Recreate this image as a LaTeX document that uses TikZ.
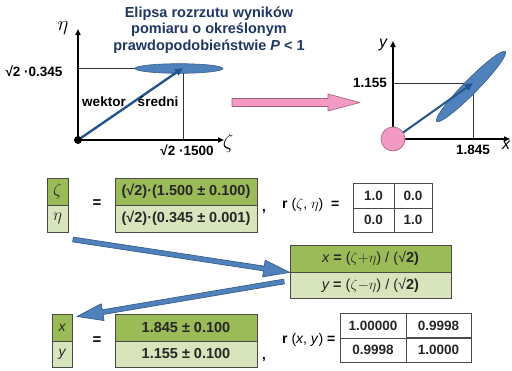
\documentclass[tikz,border=0pt]{standalone}
\usepackage{fontspec}
\setmainfont{Liberation Sans}
\usetikzlibrary{calc,arrows.meta}
\definecolor{titlec}{HTML}{1F3763}
\definecolor{gdark}{HTML}{9BBB59}
\definecolor{glight}{HTML}{D8E4BC}
\definecolor{bordc}{HTML}{4A4A4A}
\definecolor{txtc}{HTML}{262626}
\definecolor{ellf}{HTML}{4F81BD}
\definecolor{elld}{HTML}{385D8A}
\definecolor{vecc}{HTML}{24558C}
\definecolor{pinkf}{HTML}{F39AC4}
\definecolor{pinkd}{HTML}{A0607E}
\tikzset{
  cell/.style={draw=bordc, line width=0.8pt, inner sep=0pt, text=txtc,
    font=\fontsize{14.5}{16}\selectfont\bfseries},
  wcell/.style={cell, fill=white, font=\fontsize{13.5}{15}\selectfont\bfseries},
  lbl/.style={inner sep=0pt, text=black, font=\fontsize{13.5}{15}\selectfont\bfseries},
  axis/.style={line width=1.6pt, -{Triangle[length=6pt,width=5pt]}},
  thin/.style={line width=0.5pt, draw=black!80},
  vec/.style={line width=2.4pt, draw=vecc, -{Triangle[length=8pt,width=7pt]}},
  ell/.style={fill=ellf, draw=elld, line width=0.6pt},
  bluearr/.style={fill=ellf, draw=elld, line width=0.7pt, line join=round},
}
\newcommand{\bluearrow}[3]{%
  \coordinate (#3bp) at ($(#2)!26pt!(#1)$);
  \draw[bluearr] ($(#1)!2.4pt!90:(#2)$) -- ($(#3bp)!2.4pt!90:(#2)$)
    -- ($(#3bp)!8.5pt!90:(#2)$) -- (#2) -- ($(#3bp)!8.5pt!-90:(#2)$)
    -- ($(#3bp)!2.4pt!-90:(#2)$) -- ($(#1)!2.4pt!-90:(#2)$) -- cycle;}
\begin{document}
\begin{tikzpicture}[x=1pt,y=-1pt]
\useasboundingbox (0,0) rectangle (512,370);

% ---------- title ----------
\node[align=center, text=titlec, font=\fontsize{14.5}{16.5}\selectfont\bfseries] (title) at (209,30)
  {Elipsa rozrzutu wyników\\pomiaru o określonym\\prawdopodobieństwie \textit{P} < 1};

% ---------- left plot ----------
\coordinate (O1) at (78,140);
\coordinate (Y1) at (78,29);
\coordinate (X1) at (224,140);
\coordinate (M1) at (183,68);
\coordinate (M1y) at (78,68);
\coordinate (M1x) at (183,140);
\draw[thin] (M1y) -- (M1) -- (M1x);
\draw[ell] (179,68.5) ellipse [x radius=44pt, y radius=4.8pt];
\draw[axis] (O1) -- (Y1);
\draw[axis] (O1) -- (X1);
\draw[vec] (O1) -- (M1);
\fill[black] (O1) circle [radius=4pt];
\node[font=\fontsize{21}{21}\selectfont] (eta) at (63,28) {$\eta$};
\node[font=\fontsize{21}{21}\selectfont] (zeta) at (228,143) {$\zeta$};
\node[lbl] (l345) at (34,71) {√2 ·0.345};
\node[lbl] (l1500) at (187,150) {√2 ·1500};
\node[lbl] (wek) at (104,102) {wektor};
\node[lbl] (sred) at (158,102) {średni};

% ---------- pink arrow ----------
\coordinate (pa1) at (232,98.5);
\coordinate (pa2) at (328,98.5);
\coordinate (pa3) at (328,94);
\coordinate (pa4) at (360,102.5);
\coordinate (pa5) at (328,111);
\coordinate (pa6) at (328,106.5);
\coordinate (pa7) at (232,106.5);
\draw[fill=pinkf, draw=pinkd, line width=0.6pt, line join=round]
  (pa1) -- (pa2) -- (pa3) -- (pa4) -- (pa5) -- (pa6) -- (pa7) -- cycle;

% ---------- right plot ----------
\coordinate (O2) at (393,139);
\coordinate (Y2) at (393,41);
\coordinate (X2) at (510,139);
\coordinate (M2) at (473,83);
\coordinate (M2y) at (393,83);
\coordinate (M2x) at (473,139);
\coordinate (V2) at (401,134);
\draw[thin] (M2y) -- (M2) -- (M2x);
\draw[ell, rotate around={45.5:(471,86.5)}] (471,86.5) ellipse [x radius=49pt, y radius=7pt];
\draw[axis] (O2) -- (Y2);
\draw[axis] (O2) -- (X2);
\draw[vec, line width=2pt] (V2) -- (M2);
\draw[fill=pinkf, draw=pinkd, line width=0.6pt] (O2) circle [radius=12pt];
\node[font=\fontsize{16}{16}\selectfont\itshape] (ylab) at (383,45) {y};
\node[font=\fontsize{16}{16}\selectfont\itshape] (xlab) at (506,145) {x};
\node[lbl] (l1155) at (370,83) {1.155};
\node[lbl] (l1845) at (473,150) {1.845};

% ---------- first equation ----------
\node[cell, fill=gdark, minimum width=21pt, minimum height=27pt, font=\fontsize{16}{16}\selectfont] (z) at (57.5,191.5) {$\zeta$};
\node[cell, fill=glight, minimum width=21pt, minimum height=27pt, font=\fontsize{16}{16}\selectfont] (e) at (57.5,218.5) {$\eta$};
\node[lbl, font=\fontsize{15}{15}\selectfont\bfseries] (eq1) at (97,204) {=};
\node[cell, fill=gdark, minimum width=142pt, minimum height=27pt] (zv) at (186,191.5) {(√2)·(1.500 ± 0.100)};
\node[cell, fill=glight, minimum width=142pt, minimum height=27pt] (ev) at (186,218.5) {(√2)·(0.345 ± 0.001)};
\node[lbl] (c1) at (264,212) {,};
\node[lbl, anchor=west, font=\fontsize{14}{15}\selectfont\bfseries] (r1) at (282,205) {r\mdseries\ ($\zeta$, $\eta$)\bfseries\ \ =};
\node[wcell, minimum width=41pt, minimum height=25pt] (a11) at (373.5,195.5) {1.0};
\node[wcell, minimum width=38pt, minimum height=25pt] (a12) at (413,195.5) {0.0};
\node[wcell, minimum width=41pt, minimum height=24pt] (a21) at (373.5,220) {0.0};
\node[wcell, minimum width=38pt, minimum height=24pt] (a22) at (413,220) {1.0};

% ---------- transformation ----------
\node[cell, fill=gdark, minimum width=161pt, minimum height=27pt] (fx) at (370.5,258.5)
  {{\itshape\mdseries x} = \mdseries($\zeta{+}\eta$) / (√\bfseries 2)};
\node[cell, fill=glight, minimum width=161pt, minimum height=26pt] (fy) at (370.5,285)
  {{\itshape\mdseries y} = \mdseries($\zeta{-}\eta$) / (√\bfseries 2)};

% ---------- second equation ----------
\node[cell, fill=gdark, minimum width=20pt, minimum height=26.5pt, font=\fontsize{14}{14}\selectfont\itshape] (x) at (62,328) {x};
\node[cell, fill=glight, minimum width=20pt, minimum height=26.5pt, font=\fontsize{14}{14}\selectfont\itshape] (y) at (62,354.5) {y};
\node[lbl, font=\fontsize{15}{15}\selectfont\bfseries] (eq2) at (97,341) {=};
\node[cell, fill=gdark, minimum width=142pt, minimum height=27pt] (xv) at (186,327.5) {1.845 ± 0.100};
\node[cell, fill=glight, minimum width=142pt, minimum height=26pt] (yv) at (186,354) {1.155 ± 0.100};
\node[lbl] (c2) at (264,360) {,};
\node[lbl, anchor=west, font=\fontsize{14}{15}\selectfont\bfseries] (r2) at (282,340) {r\mdseries\ (\textit{x}, \textit{y}) \bfseries=};
\node[wcell, minimum width=66pt, minimum height=25pt] (b11) at (373,325.5) {1.00000};
\node[wcell, minimum width=65pt, minimum height=24pt] (b12) at (438.5,325.5) {0.9998};
\node[wcell, minimum width=66pt, minimum height=24pt] (b21) at (373,350) {0.9998};
\node[wcell, minimum width=65pt, minimum height=24pt] (b22) at (438.5,350) {1.0000};

% ---------- blue block arrows ----------
\coordinate (s1) at (73,239.5);
\coordinate (t1) at (fx.south west);
\coordinate (s2) at (284,281.5);
\coordinate (t2) at (77,316.5);
\bluearrow{s1}{t1}{ba}
\bluearrow{s2}{t2}{bb}
\end{tikzpicture}
\end{document}
